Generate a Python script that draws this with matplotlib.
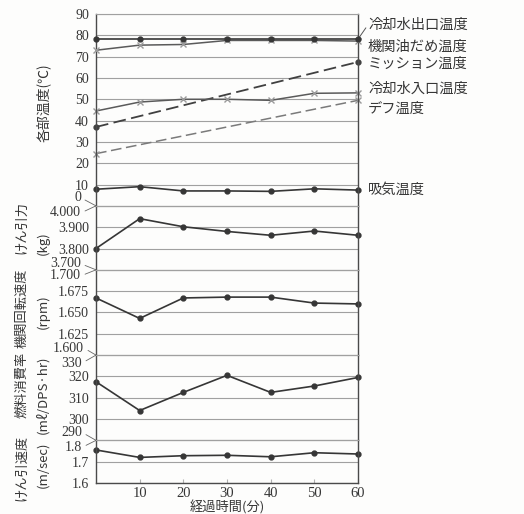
import matplotlib
matplotlib.use("Agg")
import matplotlib.pyplot as plt

# elapsed time (minutes)
minutes = [0, 10, 20, 30, 40, 50, 60]
end_minutes = [0, 60]

# temperatures (deg C)
coolant_out = [78.2, 78.2, 78.2, 78.2, 78.2, 78.2, 78.2]
oil_pan = [73.0, 75.4, 75.7, 77.6, 77.6, 77.6, 77.3]
mission = [37.0, 67.5]
coolant_in = [44.5, 48.7, 50.0, 50.0, 49.5, 52.8, 53.0]
diff = [24.5, 49.5]
intake = [7.8, 9.0, 7.0, 7.0, 6.8, 8.0, 7.4]

# drawbar pull (kg, x1000 display), engine speed (rpm, x1000 display)
drawbar_pull = [3.800, 3.940, 3.902, 3.880, 3.862, 3.882, 3.862]
engine_rpm = [1.667, 1.643, 1.667, 1.668, 1.668, 1.661, 1.660]

# fuel consumption (ml/DPS-hr) and towing speed (m/sec)
fuel_rate = [317.5, 304.0, 312.5, 320.5, 312.5, 315.5, 319.5]
tow_speed = [1.755, 1.720, 1.728, 1.730, 1.723, 1.742, 1.736]

temp_labels = ["冷却水出口温度", "機関油だめ温度", "ミッション温度",
               "冷却水入口温度", "デフ温度", "吸気温度"]

JP = ["Noto Sans CJK JP", "DejaVu Sans"]
NUM = "Liberation Serif"
INK = "#363636"
GRID = "#a0a0a0"

W, H = 524, 514
fig = plt.figure(figsize=(W / 100, H / 100), dpi=100)
fig.patch.set_facecolor("#fdfdfc")
gs = fig.add_gridspec(5, 1, height_ratios=[9, 3, 4, 4, 2], hspace=0,
                      left=96 / W, right=358 / W, top=1 - 14 / H, bottom=1 - 483 / H)
axes = [fig.add_subplot(gs[i]) for i in range(5)]
ax_t, ax_kg, ax_rpm, ax_fuel, ax_v = axes

panels = [
    (ax_t, (0, 90), list(range(0, 91, 10)), {v: str(v) for v in range(10, 91, 10)}),
    (ax_kg, (3.7, 4.0), [3.7, 3.8, 3.9, 4.0], {3.8: "3.800", 3.9: "3.900"}),
    (ax_rpm, (1.6, 1.7), [1.6, 1.625, 1.65, 1.675, 1.7],
     {1.625: "1.625", 1.65: "1.650", 1.675: "1.675"}),
    (ax_fuel, (290, 330), [290, 300, 310, 320, 330], {300: "300", 310: "310", 320: "320"}),
    (ax_v, (1.6, 1.8), [1.6, 1.7, 1.8], {1.6: "1.6", 1.7: "1.7"}),
]

for ax, lim, ticks, labels in panels:
    ax.set_facecolor("none")
    ax.set_xlim(0, 60)
    ax.set_ylim(*lim)
    ax.set_yticks(ticks)
    ax.set_yticklabels([labels.get(t, "") for t in ticks], fontfamily=NUM,
                       fontsize=10, color=INK)
    ax.tick_params(axis="y", length=0, pad=5)
    ax.grid(axis="y", color=GRID, lw=0.8)
    ax.set_axisbelow(True)
    for s in ("left", "right"):
        ax.spines[s].set_color("#4a4a4a")
        ax.spines[s].set_linewidth(1.0)
    for s in ("top", "bottom"):
        ax.spines[s].set_color(GRID)
        ax.spines[s].set_linewidth(0.8)
    ax.set_xticks([10, 20, 30, 40, 50, 60])
    ax.tick_params(axis="x", bottom=False, labelbottom=False)

ax_v.spines["bottom"].set_color("#4a4a4a")
ax_v.spines["bottom"].set_linewidth(1.0)
ax_v.tick_params(axis="x", bottom=True, labelbottom=True, direction="in",
                 length=3, color="#b0b0b0", pad=3)
ax_v.set_xticklabels(["10", "20", "30", "40", "50", "60"], fontfamily=NUM,
                     fontsize=10.5, color=INK)
ax_v.set_xlabel("経過時間(分)", fontfamily=JP, fontsize=9.5, color=INK, labelpad=0)

solid = dict(color=INK, lw=1.2, marker="o", ms=3.5, mfc=INK, mec=INK, clip_on=False)
cross = dict(color="#5a5a5a", lw=1.1, marker="x", ms=5, mew=1.0, mec="#9a9a9a", clip_on=False)

ax_t.plot(minutes, coolant_out, **solid, zorder=4)
ax_t.plot(minutes, oil_pan, **cross, zorder=3)
ax_t.plot(end_minutes, mission, color="#404040", lw=1.3, dashes=(7, 3),
          marker="o", ms=3.5, mfc="#404040", mec="#404040", clip_on=False)
ax_t.plot(minutes, coolant_in, **cross)
ax_t.plot(end_minutes, diff, color="#7a7a7a", lw=1.1, dashes=(7, 3),
          marker="x", ms=5, mew=1.0, mec="#9a9a9a", clip_on=False)
ax_t.plot(minutes, intake, **solid)

ax_kg.plot(minutes, drawbar_pull, **solid)
ax_rpm.plot(minutes, engine_rpm, **solid)
ax_fuel.plot(minutes, fuel_rate, **solid)
ax_v.plot(minutes, tow_speed, **solid)

# series names at the right-hand end of the temperature panel
label_y = [84.8, 74.5, 66.4, 55.1, 45.7, 7.5]
for name, y in zip(temp_labels, label_y):
    ax_t.text(62.3, y, name, fontfamily=JP, fontsize=10.3, color=INK,
              ha="left", va="center", clip_on=False)
ax_t.annotate("", xy=(60, coolant_out[-1]), xytext=(61.8, 83.5),
              arrowprops=dict(arrowstyle="-", color="#555555", lw=0.7,
                              shrinkA=0, shrinkB=0), annotation_clip=False)

# tick labels shared by two scales at a panel boundary, with leader lines
def shared_label(ax, text, dx, dy):
    ax.annotate(text, xy=(0, 0), xycoords="axes fraction",
                xytext=(dx, dy), textcoords="offset pixels",
                ha="right", va="center", fontfamily=NUM, fontsize=10, color=INK,
                arrowprops=dict(arrowstyle="-", color="#666666", lw=0.6,
                                shrinkA=1, shrinkB=0, relpos=(1, 0.5)),
                annotation_clip=False)

shared_label(ax_t, "0", -15, 8)
shared_label(ax_t, "4.000", -15, -7)
shared_label(ax_kg, "3.700", -15, 6)
shared_label(ax_kg, "1.700", -15, -6)
shared_label(ax_rpm, "1.600", -12, 7)
shared_label(ax_rpm, "330", -14, -8)
shared_label(ax_fuel, "290", -14, 8)
shared_label(ax_fuel, "1.8", -14, -7)

# vertical axis titles
def vtext(x, y, s, size=9.5):
    fig.text(x / W, 1 - y / H, s, rotation=90, ha="center", va="center",
             fontfamily=JP, fontsize=size, color=INK)

vtext(43, 103, "各部温度(℃)", 10)
vtext(22, 228, "けん引力")
vtext(22, 308, "機関回転速度")
vtext(43, 243, "(kg)")
vtext(43, 312, "(rpm)")
vtext(22, 385, "燃料消費率")
vtext(22, 468, "けん引速度")
vtext(43, 395, "(mℓ/DPS·hr)")
vtext(43, 465, "(m/sec)")

fig.savefig("out.png", dpi=100, facecolor=fig.get_facecolor())
